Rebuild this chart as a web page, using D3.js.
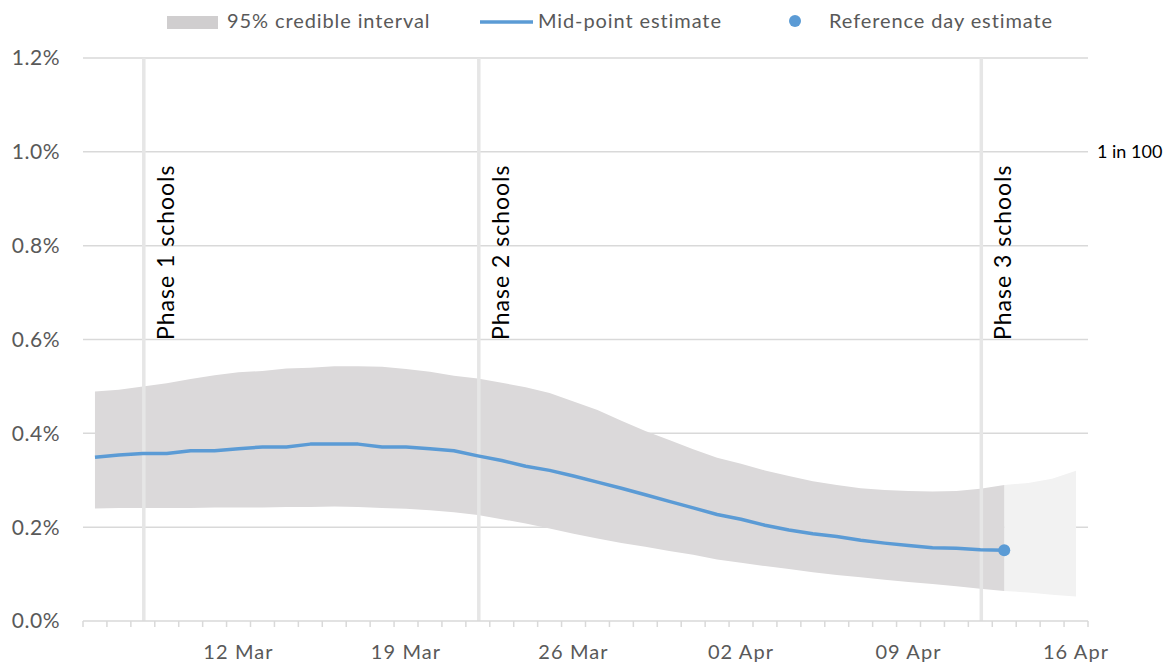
<!DOCTYPE html>
<html>
<head>
<meta charset="utf-8">
<script src="https://cdn.jsdelivr.net/npm/d3@7"></script>
<style>
  html, body { margin: 0; padding: 0; background: #fff; }
  svg { display: block; font-family: Lato, "Open Sans", sans-serif; }
</style>
</head>
<body>
<svg id="chart" width="1166" height="663"></svg>
<script>
// ---------- data ----------
const dates = ["06 Mar","07 Mar","08 Mar","09 Mar","10 Mar","11 Mar","12 Mar","13 Mar","14 Mar","15 Mar",
  "16 Mar","17 Mar","18 Mar","19 Mar","20 Mar","21 Mar","22 Mar","23 Mar","24 Mar","25 Mar",
  "26 Mar","27 Mar","28 Mar","29 Mar","30 Mar","31 Mar","01 Apr","02 Apr","03 Apr","04 Apr",
  "05 Apr","06 Apr","07 Apr","08 Apr","09 Apr","10 Apr","11 Apr","12 Apr","13 Apr","14 Apr",
  "15 Apr","16 Apr"];
const tickLabels = ["12 Mar","19 Mar","26 Mar","02 Apr","09 Apr","16 Apr"];
const yTicks = [0, 0.2, 0.4, 0.6, 0.8, 1.0, 1.2];

// mid-point estimate (%), up to reference day
const midEstimate = [0.349,0.354,0.357,0.357,0.363,0.363,0.367,0.371,0.371,0.377,
  0.377,0.377,0.371,0.371,0.367,0.363,0.352,0.342,0.330,0.321,
  0.309,0.296,0.283,0.269,0.255,0.241,0.227,0.217,0.204,0.194,
  0.186,0.180,0.172,0.166,0.161,0.156,0.155,0.152,0.151];
// 95% credible interval (%)
const upper95 = [0.489,0.493,0.500,0.507,0.516,0.524,0.530,0.533,0.538,0.540,
  0.543,0.543,0.542,0.537,0.531,0.523,0.517,0.508,0.498,0.486,
  0.468,0.450,0.427,0.405,0.386,0.366,0.348,0.335,0.321,0.309,
  0.298,0.290,0.283,0.279,0.277,0.276,0.277,0.282,0.290,0.294,
  0.303,0.320];
const lower95 = [0.240,0.241,0.241,0.241,0.241,0.242,0.242,0.242,0.243,0.243,
  0.244,0.243,0.241,0.239,0.236,0.232,0.226,0.217,0.208,0.197,
  0.186,0.176,0.166,0.158,0.149,0.141,0.131,0.124,0.117,0.111,
  0.104,0.098,0.093,0.088,0.083,0.079,0.074,0.069,0.064,0.061,
  0.056,0.052];
const referenceDay = "13 Apr";
const phaseDates = ["08 Mar","22 Mar","12 Apr"];
const phaseLabels = ["Phase 1 schools","Phase 2 schools","Phase 3 schools"];
const rightLabelValue = 1.0;
const rightLabelText = "1 in 100";

// ---------- layout ----------
const svg = d3.select("#chart");
const plot = {left: 83, right: 1088, top: 58, bottom: 621};

const x = d3.scaleBand().domain(dates).range([plot.left, plot.right]).padding(0);
const cx = d => x(d) + x.bandwidth() / 2;
const y = d3.scaleLinear().domain([0, 1.2]).range([plot.bottom, plot.top]);

const gridColor = "#d9d9d9";
const textGray = "#595959";

// gridlines
svg.append("g").selectAll("line").data(yTicks.filter(v => v > 0)).join("line")
  .attr("x1", plot.left).attr("x2", plot.right)
  .attr("y1", d => y(d)).attr("y2", d => y(d))
  .attr("stroke", gridColor).attr("stroke-width", 1.5);

// y tick labels
svg.append("g").selectAll("text").data(yTicks).join("text")
  .attr("x", 60).attr("y", d => y(d)).attr("dy", "0.35em")
  .attr("text-anchor", "end").attr("fill", textGray)
  .style("font-size", "21px").style("letter-spacing", "0.5px")
  .text(d => d.toFixed(1) + "%");

// bands
const refIdx = dates.indexOf(referenceDay);
const bandData = dates.map((d, i) => ({d, lo: lower95[i], hi: upper95[i]}));
const area = d3.area().x(p => cx(p.d)).y0(p => y(p.lo)).y1(p => y(p.hi));
svg.append("path").datum(bandData.slice(refIdx))
  .attr("d", area).attr("fill", "#f2f2f2");
svg.append("path").datum(bandData.slice(0, refIdx + 1))
  .attr("d", area).attr("fill", "#dbd9da");

// phase lines
svg.append("g").selectAll("line").data(phaseDates).join("line")
  .attr("x1", d => cx(d) + 1).attr("x2", d => cx(d) + 1)
  .attr("y1", plot.top).attr("y2", plot.bottom)
  .attr("stroke", "#e6e6e6").attr("stroke-width", 3.5);

// x axis
const xAxis = d3.axisBottom(x).tickValues(tickLabels).tickSize(0).tickPadding(0);
const gx = svg.append("g").attr("transform", `translate(0,${plot.bottom})`).call(xAxis);
gx.select(".domain").remove();
gx.selectAll("text").attr("fill", textGray).style("font-size", "20px")
  .style("letter-spacing", "1.1px")
  .style("font-family", "Lato, sans-serif").attr("y", 38).attr("dy", 0);
svg.append("line").attr("x1", plot.left).attr("x2", plot.right)
  .attr("y1", plot.bottom).attr("y2", plot.bottom)
  .attr("stroke", gridColor).attr("stroke-width", 1.5);
const boundaries = dates.map(d => x(d)).concat([x(dates[dates.length - 1]) + x.bandwidth()]);
svg.append("g").selectAll("line").data(boundaries).join("line")
  .attr("x1", d => d).attr("x2", d => d)
  .attr("y1", plot.bottom).attr("y2", plot.bottom + 6)
  .attr("stroke", gridColor).attr("stroke-width", 1.5);

// mid line
const midData = midEstimate.map((v, i) => ({d: dates[i], v}));
svg.append("path").datum(midData)
  .attr("d", d3.line().x(p => cx(p.d)).y(p => y(p.v)))
  .attr("fill", "none").attr("stroke", "#5b9bd5").attr("stroke-width", 3.5)
  .attr("stroke-linejoin", "round");
svg.append("circle").attr("cx", cx(referenceDay)).attr("cy", y(midEstimate[refIdx]))
  .attr("r", 6).attr("fill", "#5b9bd5");

// phase labels
svg.append("g").selectAll("text").data(phaseDates).join("text")
  .attr("transform", d => `translate(${cx(d) + 31},340) rotate(-90)`)
  .attr("fill", "#000").style("font-size", "23px").style("letter-spacing", "1px")
  .text((d, i) => phaseLabels[i]);

// right label
svg.append("text").attr("x", 1097).attr("y", y(rightLabelValue)).attr("dy", "0.35em")
  .attr("fill", "#000").style("font-size", "18px").text(rightLabelText);

// legend
const lg = svg.append("g").style("font-size", "20px").style("letter-spacing", "0.9px").attr("fill", textGray);
lg.append("rect").attr("x", 167).attr("y", 16).attr("width", 51).attr("height", 13).attr("fill", "#d0cecf");
lg.append("text").attr("x", 227).attr("y", 21).attr("dy", "0.35em").text("95% credible interval");
lg.append("line").attr("x1", 480).attr("x2", 533).attr("y1", 22).attr("y2", 22)
  .attr("stroke", "#5b9bd5").attr("stroke-width", 3.5);
lg.append("text").attr("x", 538).attr("y", 21).attr("dy", "0.35em").text("Mid-point estimate");
lg.append("circle").attr("cx", 795).attr("cy", 21).attr("r", 6).attr("fill", "#5b9bd5");
lg.append("text").attr("x", 829).attr("y", 21).attr("dy", "0.35em").text("Reference day estimate");
</script>
</body>
</html>
